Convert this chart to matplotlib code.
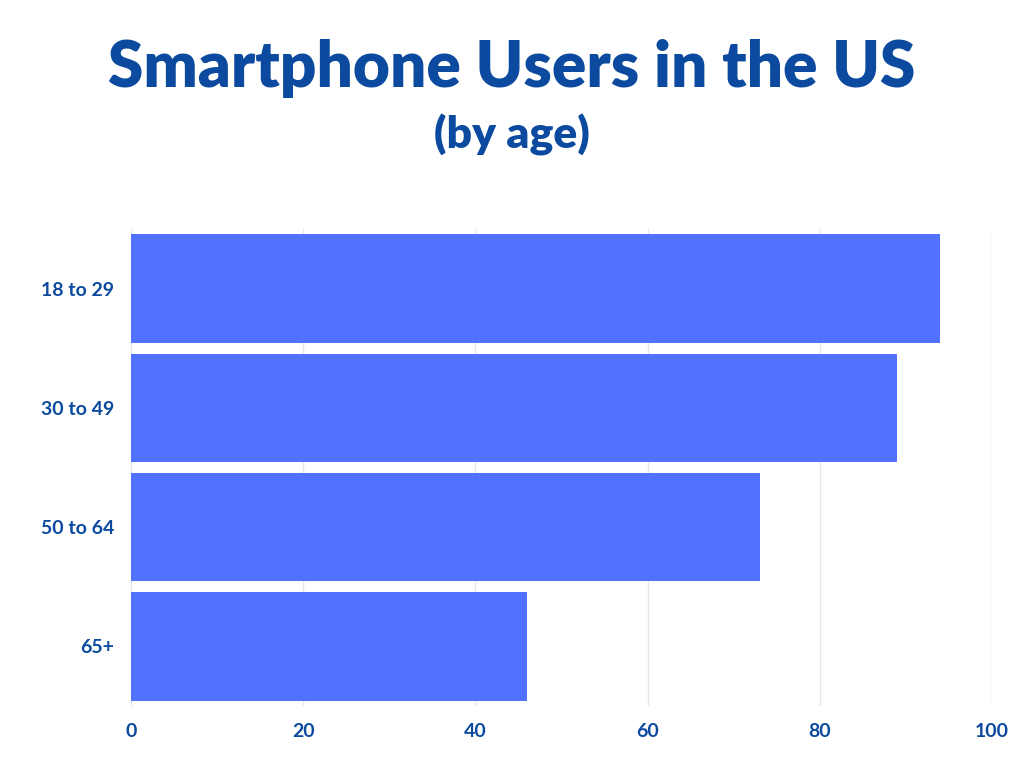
import matplotlib
matplotlib.use("Agg")
import matplotlib.pyplot as plt

categories = ["18 to 29", "30 to 49", "50 to 64", "65+"]
values = [94, 89, 73, 46]
xticks = [0, 20, 40, 60, 80, 100]

plt.rcParams['font.family'] = ['Lato', 'DejaVu Sans']
fig = plt.figure(figsize=(10.24, 7.68), dpi=100)
ax = fig.add_axes([131/1024, 1-706/768, (992-131)/1024, (706-229)/768])
y = list(range(len(categories)))
ax.barh(y, values, height=0.91, color="#5271FF", zorder=3)
ax.set_ylim(len(categories)-0.5, -0.5)
ax.set_xlim(0, 100)
ax.set_yticks(y)
ax.set_yticklabels(categories)
ax.set_xticks(xticks)
ax.grid(axis='x', color="#E3E8EE", linewidth=1, zorder=0)
for s in ["top", "right", "bottom"]:
    ax.spines[s].set_visible(False)
ax.spines["left"].set_color("#E3E8EE")
ax.tick_params(length=0, labelsize=14, labelcolor="#0B4A9E", pad=12)
for lbl in ax.get_xticklabels() + ax.get_yticklabels():
    lbl.set_fontweight("bold")
fig.text(0.5, 1-68/768, "Smartphone Users in the US", ha="center", va="center",
         fontsize=46, fontweight="heavy", color="#0B4A9E")
fig.text(0.5, 1-135/768, "(by age)", ha="center", va="center",
         fontsize=32, fontweight="heavy", color="#0B4A9E")
fig.savefig("out.png", dpi=100, facecolor="white")
